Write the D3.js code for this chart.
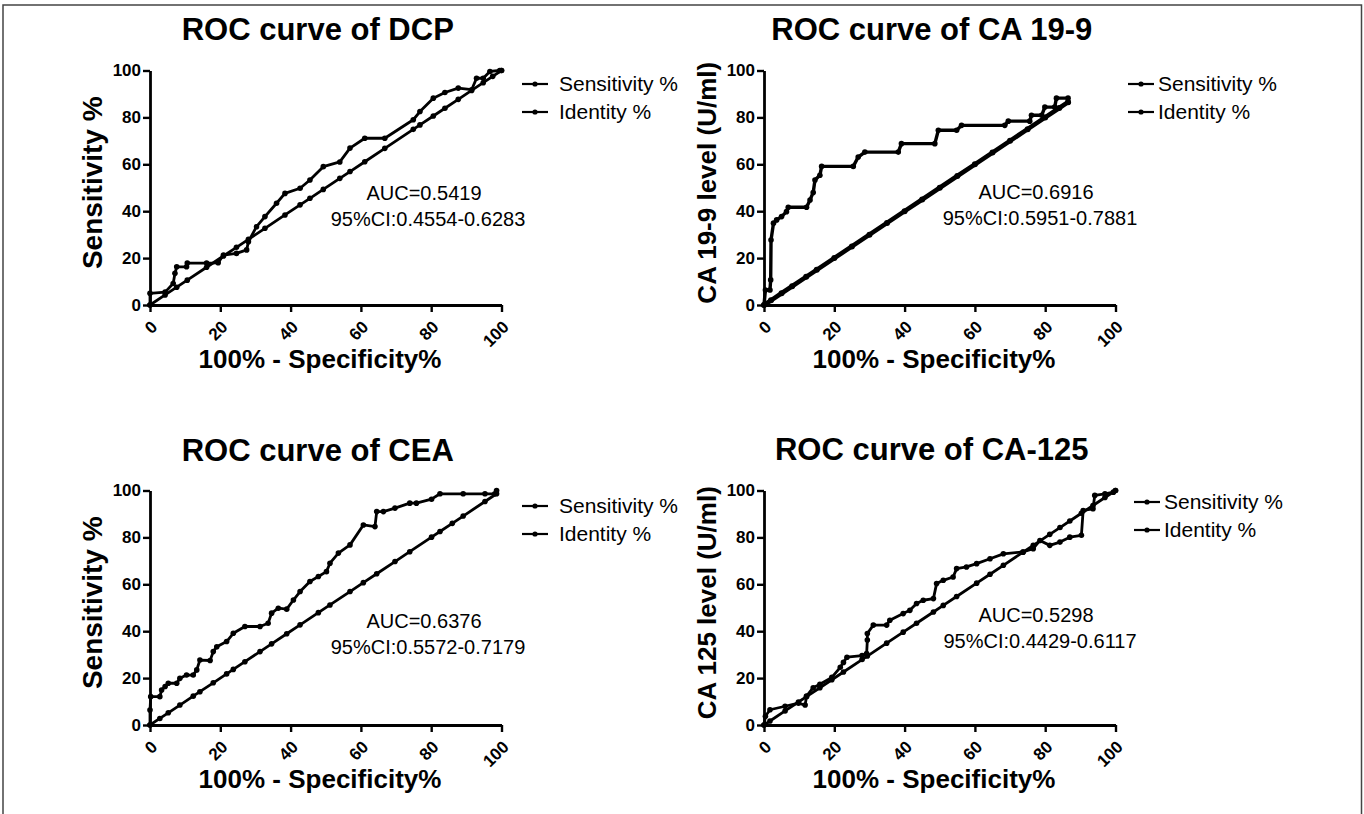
<!DOCTYPE html>
<html>
<head>
<meta charset="utf-8">
<script src="https://cdn.jsdelivr.net/npm/d3@7"></script>
<style>
  body { margin: 0; background: #fff; }
  svg { display: block; font-family: "Liberation Sans", Arial, sans-serif; }
</style>
</head>
<body>
<div id="chart"></div>
<script>
// ROC curves of four markers

const xTicks = [0, 20, 40, 60, 80, 100];
const yTicks = [0, 20, 40, 60, 80, 100];
const legendNames = ['Sensitivity %', 'Identity %'];

const titles = ['ROC curve of DCP', 'ROC curve of CA 19-9', 'ROC curve of CEA', 'ROC curve of CA-125'];
const yLabels = ['Sensitivity %', 'CA 19-9 level (U/ml)', 'Sensitivity %', 'CA 125 level (U/ml)'];
const xLabel = '100% - Specificity%';
const aucTexts = ['AUC=0.5419', 'AUC=0.6916', 'AUC=0.6376', 'AUC=0.5298'];
const ciTexts = ['95%CI:0.4554-0.6283', '95%CI:0.5951-0.7881', '95%CI:0.5572-0.7179', '95%CI:0.4429-0.6117'];

// [100% - specificity, sensitivity]
const dcpRoc = [[0,0],[0,5],[4.3,5.5],[6.6,9.2],[7.1,13.5],[7.6,16.3],[10.4,16.3],[10.6,17.9],[16.1,17.9],
  [19.4,18],[20.9,21.3],[24.6,22],[27.5,23.5],[28,27],[30.3,33.4],[32.7,37.7],[36,43.4],[38.4,47.6],
  [42.7,49.8],[45.5,53.3],[49.3,59],[54,61],[56.9,66.9],[61.1,71.1],[66.8,71.1],[74.9,79],[76.8,82.5],
  [80.6,88.2],[83.9,90.6],[87.7,92.5],[91.5,91.8],[92.9,96.7],[94.8,96.7],[96.7,99.6],[99.5,100],[100,100]];
const dcpIdentity = [[0,0],[4.3,4.3],[7.6,7.6],[10.6,10.6],[16.1,16.1],[20.9,20.9],[24.6,24.6],[28,28],
  [32.7,32.7],[38.4,38.4],[42.7,42.7],[45.5,45.5],[49.3,49.3],[54,54],[56.9,56.9],[61.1,61.1],[66.8,66.8],
  [74.9,74.9],[76.8,76.8],[80.6,80.6],[83.9,83.9],[87.7,87.7],[91.5,91.5],[94.8,94.8],[97.5,97.5],[100,100]];

const ca199Roc = [[0,0],[0.4,6.4],[1.7,6.4],[1.9,10.7],[2,27.7],[2.7,34.9],[3.6,36.3],[5,37.7],[6.4,39.8],
  [6.9,41.7],[12.1,41.7],[13.1,44.8],[14,48],[14.5,53.3],[15.9,55.3],[16.4,59.1],[25.4,59.1],[26.8,63.1],
  [28.7,65.2],[38.2,65.2],[39.1,68.8],[48.6,68.8],[49.6,74.5],[54.8,74.5],[56.2,76.6],[68.5,76.6],
  [69.5,78.4],[75.6,78.4],[76.1,80.9],[79,80.9],[79.9,84.4],[82.7,84.4],[83.2,88.2],[86.5,88.2],[86.5,86.5]];
const ca199Identity = [[0,0],[2,2],[5,5],[8,8],[12,12],[15,15],[20,20],[25,25],[30,30],[35,35],[40,40],
  [45,45],[50,50],[55,55],[60,60],[65,65],[70,70],[75,75],[80,80],[84,84],[86.5,86.5]];

const ceaRoc = [[0,0],[0,6.4],[0.2,12.1],[2.8,12.1],[3.3,14.9],[4.3,16.4],[5.2,17.8],[7.6,17.8],[8.5,19.9],
  [10.4,21.3],[12.3,21.3],[13.3,23.5],[14.2,27.7],[17.1,27.5],[18,31.3],[19,33.4],[21.8,35.6],[23.7,39.1],
  [27,42],[31.3,42],[33.6,43.4],[34.6,47.7],[36.5,49.8],[38.9,49.4],[40.8,53.3],[42.7,56.9],[45.5,61.2],
  [47.9,63.3],[50.2,65.4],[51.2,69],[53.6,73.3],[56.9,76.8],[60.7,85.3],[64,84.6],[64.5,91],[66.4,91],
  [69.7,92.5],[73.9,94.6],[75.8,94.6],[80.1,96.3],[82.5,98.6],[89.1,98.6],[95.3,98.6],[98.1,98.6],[98.6,100]];
const ceaIdentity = [[0,0],[2.8,2.8],[5.2,5.2],[8.5,8.5],[12.3,12.3],[14.2,14.2],[18,18],[21.8,21.8],
  [23.7,23.7],[27,27],[31.3,31.3],[34.6,34.6],[38.9,38.9],[42.7,42.7],[47.9,47.9],[51.2,51.2],[56.9,56.9],
  [60.7,60.7],[64.5,64.5],[69.7,69.7],[73.9,73.9],[80.1,80.1],[82.5,82.5],[86,86],[89.1,89.1],[95.3,95.3],[98.6,98.6]];

const ca125Roc = [[0,0],[0.4,3.7],[1.7,6.5],[6,8],[9.8,9.3],[11.7,8.5],[12.1,12.3],[14,15.9],[15.9,17.4],
  [19.3,20.3],[21.7,24.6],[22.6,26.7],[23.6,28.9],[27.9,29.6],[29.2,30.5],[29.4,36.2],[29.4,39],[31.1,42.6],
  [34.9,42.6],[35.8,44.7],[39.6,47.5],[41.5,48.9],[43.4,51.8],[45.3,53.2],[48.2,53.9],[49.1,60.3],[51,61.7],
  [53.8,63.1],[54.8,66.7],[57.6,67.4],[60.5,68.8],[64.3,70.9],[68.1,73],[73.7,73.8],[76.6,75.2],[78.5,78.7],
  [81.3,76.6],[84.2,78],[87,80.1],[90.3,80.9],[90.8,91.5],[93.6,92.2],[94.1,97.9],[97,98.6],[99.4,99.3],[100,100]];
const ca125Identity = [[0,0],[1.7,1.7],[6,6],[9.8,9.8],[12.1,12.1],[15.9,15.9],[19.3,19.3],[22.6,22.6],
  [27.9,27.9],[29.4,29.4],[34.9,34.9],[39.6,39.6],[43.4,43.4],[48.2,48.2],[51,51],[54.8,54.8],[60.5,60.5],
  [64.3,64.3],[68.1,68.1],[73.7,73.7],[76.6,76.6],[81.3,81.3],[84.2,84.2],[87,87],[90.3,90.3],[93.6,93.6],
  [97,97],[100,100]];

const rocSeries = [dcpRoc, ca199Roc, ceaRoc, ca125Roc];
const identitySeries = [dcpIdentity, ca199Identity, ceaIdentity, ca125Identity];

// panel frames: plot origin (left, bottom) and the top of the y axis
const frames = [
  {left: 150, right: 501.5, top: 70.5, bottom: 305, legendX: 522, legendGap: 11, legendY: 84, aucX: 424, aucY: 200},
  {left: 764, right: 1115.5, top: 70.5, bottom: 305, legendX: 1128, legendGap: 4, legendY: 84, aucX: 1036, aucY: 199},
  {left: 150, right: 501.5, top: 490.5, bottom: 725, legendX: 522, legendGap: 11, legendY: 506, aucX: 424, aucY: 628},
  {left: 764, right: 1115.5, top: 490.5, bottom: 725, legendX: 1134, legendGap: 4, legendY: 502, aucX: 1036, aucY: 622}
];
const titleY = [40, 40, 461, 460];
const identityWidth = [2.8, 4.6, 2.8, 2.8];

const svg = d3.select('#chart').append('svg')
    .attr('width', 1364)
    .attr('height', 814);

// thin frame round the figure, open at the bottom
svg.append('path')
    .attr('d', 'M3,814 V5 H1361.5 V814')
    .attr('fill', 'none')
    .attr('stroke', '#444')
    .attr('stroke-width', 1.5);

frames.forEach((f, i) => {
    const x = d3.scaleLinear().domain([0, 100]).range([f.left, f.right]);
    const y = d3.scaleLinear().domain([0, 100]).range([f.bottom, f.top]);
    const g = svg.append('g');

    // x axis
    const xAxis = g.append('g')
        .attr('transform', `translate(0,${f.bottom})`)
        .call(d3.axisBottom(x).tickValues(xTicks).tickSize(7).tickSizeOuter(0));
    xAxis.selectAll('text')
        .attr('text-anchor', 'end')
        .attr('dy', null)
        .attr('y', null)
        .attr('transform', 'translate(8,23) rotate(-45)')
        .style('font-size', '17px')
        .style('font-weight', 'bold')
        .style('fill', '#000');

    // y axis
    const yAxis = g.append('g')
        .attr('transform', `translate(${f.left},0)`)
        .call(d3.axisLeft(y).tickValues(yTicks).tickSize(7).tickSizeOuter(0));
    yAxis.selectAll('text')
        .attr('x', -9)
        .style('font-size', '17px')
        .style('font-weight', 'bold')
        .style('fill', '#000');

    g.selectAll('.domain').attr('stroke', '#000').attr('stroke-width', 2.8);
    g.selectAll('.tick line').attr('stroke', '#000').attr('stroke-width', 2.4);

    // titles
    g.append('text')
        .attr('x', (f.left + f.right) / 2 - 8)
        .attr('y', titleY[i])
        .attr('text-anchor', 'middle')
        .style('font-size', '31px')
        .style('font-weight', 'bold')
        .text(titles[i]);

    g.append('text')
        .attr('x', f.left + 170)
        .attr('y', f.bottom + 63)
        .attr('text-anchor', 'middle')
        .style('font-size', '26px')
        .style('font-weight', 'bold')
        .text(xLabel);

    g.append('text')
        .attr('transform', `translate(${f.left - 48},${(f.top + f.bottom) / 2 - 5}) rotate(-90)`)
        .attr('text-anchor', 'middle')
        .style('font-size', i % 2 === 0 ? '28px' : '26px')
        .style('font-weight', 'bold')
        .text(yLabels[i]);

    // curves
    const line = d3.line().x(d => x(d[0])).y(d => y(d[1]));
    const series = [
        {data: identitySeries[i], width: identityWidth[i], r: i === 1 ? 3 : 2.8},
        {data: rocSeries[i], width: i === 1 ? 3.4 : 2.8, r: 2.8}
    ];
    series.forEach(s => {
        g.append('path')
            .datum(s.data)
            .attr('d', line)
            .attr('fill', 'none')
            .attr('stroke', '#000')
            .attr('stroke-width', s.width)
            .attr('stroke-linejoin', 'round');
        g.selectAll(null)
            .data(s.data)
            .enter()
            .append('circle')
            .attr('cx', d => x(d[0]))
            .attr('cy', d => y(d[1]))
            .attr('r', s.r)
            .attr('fill', '#000');
    });

    // legend
    legendNames.forEach((name, k) => {
        const ly = f.legendY + k * 28;
        g.append('line')
            .attr('x1', f.legendX).attr('x2', f.legendX + 26)
            .attr('y1', ly).attr('y2', ly)
            .attr('stroke', '#000').attr('stroke-width', 2.2);
        g.append('circle')
            .attr('cx', f.legendX + 13).attr('cy', ly).attr('r', 2.6)
            .attr('fill', '#000');
        g.append('text')
            .attr('x', f.legendX + 26 + f.legendGap)
            .attr('y', ly)
            .attr('dy', '0.35em')
            .style('font-size', '21px')
            .text(name);
    });

    // AUC annotation
    g.append('text')
        .attr('x', f.aucX).attr('y', f.aucY)
        .attr('text-anchor', 'middle')
        .style('font-size', '20px')
        .text(aucTexts[i]);
    g.append('text')
        .attr('x', f.aucX + 4).attr('y', f.aucY + 26)
        .attr('text-anchor', 'middle')
        .style('font-size', '20px')
        .text(ciTexts[i]);
});
</script>
</body>
</html>
